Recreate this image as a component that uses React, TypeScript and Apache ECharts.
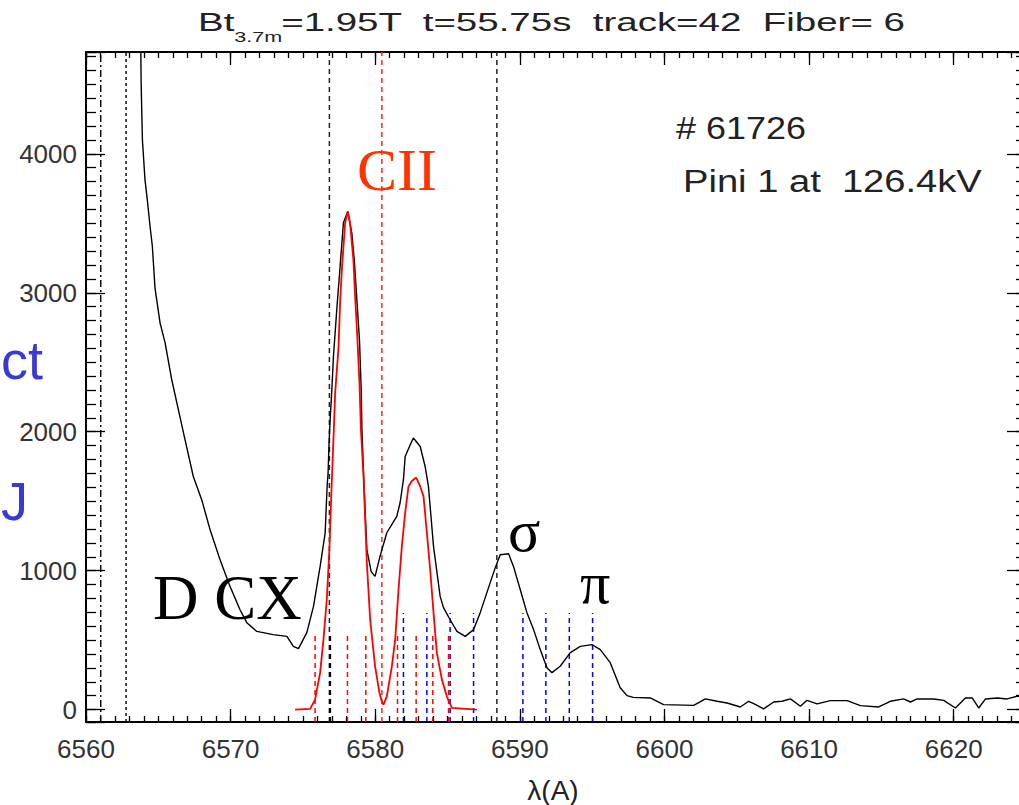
import React, { useEffect, useRef } from 'react';
import * as echarts from 'echarts';

// ---- axis ranges & tick labels ----
const X_MIN = 6560;
const X_MAX = 6625;
const Y_MIN = -89;
const Y_MAX = 4733;
const xTickLabels = ['6560', '6570', '6580', '6590', '6600', '6610', '6620'];
const yTickLabels = ['0', '1000', '2000', '3000', '4000'];

// ---- measured spectrum (black) ----
const spectrumLambda = [
  6563.75, 6563.81, 6563.90, 6564.08, 6564.24, 6564.43, 6564.59, 6564.77, 6565.12, 6565.47,
  6565.93, 6566.39, 6566.85, 6567.42, 6568.00, 6568.58, 6569.27, 6569.96, 6570.65, 6571.12,
  6571.81, 6572.94, 6573.89, 6574.34, 6574.69, 6575.27, 6575.73, 6576.19, 6576.54, 6576.60,
  6576.68, 6576.74, 6576.80, 6576.88, 6577.00, 6577.11, 6577.34, 6577.57, 6577.80, 6578.10,
  6578.38, 6578.56, 6578.73, 6578.91, 6579.03, 6579.08, 6579.19, 6579.42, 6579.72, 6579.99,
  6580.33, 6580.80, 6581.49, 6581.72, 6581.95, 6582.07, 6582.42, 6582.64, 6583.11, 6583.45,
  6583.68, 6584.03, 6584.49, 6584.72, 6585.18, 6585.65, 6586.22, 6586.80, 6587.26, 6587.72,
  6588.30, 6588.64, 6589.22, 6589.56, 6590.03, 6590.49, 6590.95, 6591.41, 6591.87, 6592.22,
  6592.79, 6593.49, 6594.18, 6594.99, 6595.56, 6596.25, 6596.94, 6597.41, 6597.84, 6599.02,
  6599.94, 6602.02, 6602.83, 6603.64, 6604.33, 6605.25, 6605.82, 6606.17, 6606.86, 6607.55,
  6608.13, 6608.71, 6609.40, 6609.86, 6610.55, 6611.47, 6612.63, 6613.55, 6614.81, 6615.62,
  6616.54, 6617.01, 6617.47, 6618.62, 6619.31, 6620.12, 6620.81, 6621.28, 6621.73, 6622.20,
  6623.01, 6623.70, 6624.39, 6625.00,
];
const spectrumCounts = [
  5200, 4520, 4101, 3813, 3669, 3477, 3333, 3036, 2784, 2640,
  2374, 2158, 1942, 1678, 1511, 1295, 1079, 887, 719, 626,
  563, 540, 527, 455, 439, 554, 743, 1031, 1273, 1430,
  1620, 1700, 1900, 2086, 2302, 2542, 2878, 3189, 3504, 3585,
  3432, 3225, 2950, 2662, 2302, 2014, 1705, 1151, 993, 959,
  1103, 1273, 1391, 1489, 1655, 1822, 1906, 1955, 1894, 1750,
  1606, 1175, 815, 734, 647, 563, 527, 576, 698, 842,
  1022, 1115, 1122, 1031, 863, 698, 576, 432, 302, 266,
  312, 410, 455, 468, 432, 338, 158, 101, 88, 84,
  36, 31, 77, 60, 48, 19, 60, 43, 5, 55,
  60, 77, 24, 67, 41, 65, 65, 29, 19, 60,
  77, 55, 77, 77, 67, 12, 84, 84, 12, 77,
  84, 77, 96, 96,
];

// ---- CII fit (red) ----
const fitLambda = [
  6574.46, 6575.50, 6575.84, 6576.19, 6576.42, 6576.65, 6576.83, 6576.95, 6577.11, 6577.23,
  6577.46, 6577.57, 6577.69, 6577.92, 6578.10, 6578.26, 6578.49, 6578.61, 6578.77, 6578.91,
  6579.01, 6579.19, 6579.42, 6579.65, 6579.99, 6580.29, 6580.45, 6580.57, 6580.80, 6581.15,
  6581.38, 6581.61, 6581.84, 6582.07, 6582.30, 6582.53, 6582.83, 6583.11, 6583.34, 6583.57,
  6583.80, 6584.03, 6584.26, 6584.61, 6584.95, 6585.30, 6587.03,
];
const fitCounts = [
  0, 5, 72, 266, 504, 791, 1151, 1511, 1942, 2281,
  2604, 2928, 3165, 3504, 3585, 3504, 3237, 2973, 2662, 2353,
  2014, 1678, 1058, 647, 312, 122, 60, 36, 96, 312,
  504, 863, 1175, 1417, 1606, 1645, 1669, 1606, 1535, 1273,
  1007, 698, 410, 216, 96, 12, 0,
];

// ---- reference wavelengths ----
const dashDotLambda = [6561.02];
const dottedLambda = [6562.77];
const blackFullLambda = [6576.83, 6588.41];
const redFullLambda = [6580.46];
const redMarkerLambda = [6575.84, 6578.08, 6579.35, 6581.54, 6582.83, 6583.98, 6585.07];
const blackMarkerLambda = [6576.88];
const blueMarkerLambda = [6581.95, 6583.57, 6585.18, 6586.80, 6590.21, 6591.80, 6593.42, 6595.03];
const redMarkerTop = 535;
const blueMarkerTop = 695;

const SANS = '"Liberation Sans", Arial, sans-serif';
const SERIF = '"Liberation Serif", "Times New Roman", serif';

function vline(x: number, top: number, color: string, dash: number[], width: number) {
  return {
    type: 'line',
    data: [[x, Y_MIN], [x, top]],
    symbol: 'none',
    silent: true,
    lineStyle: { color, width, type: dash },
    z: 3,
  };
}

export default function App() {
  const ref = useRef<HTMLDivElement>(null);
  useEffect(() => {
    if (!ref.current) return;
    const chart = echarts.init(ref.current, null, { renderer: 'svg' });

    const tickStyle = { color: '#000', width: 1.3 };
    const xBase = {
      type: 'value', min: X_MIN, max: X_MAX, splitLine: { show: false },
      axisLabel: { show: false },
      axisLine: { show: false, onZero: false },
    };
    const yBase = {
      type: 'value', min: Y_MIN, max: Y_MAX, splitLine: { show: false },
      axisLabel: { show: false },
      axisLine: { show: false, onZero: false },
    };
    const labelStyle = { fontSize: 26, fontFamily: SANS, color: '#333' };

    const series: any[] = [];
    series.push({
      type: 'line', data: spectrumLambda.map((x, i) => [x, spectrumCounts[i]]),
      symbol: 'none', clip: true, lineStyle: { color: '#000', width: 1.4 }, z: 4, silent: true,
    });
    series.push({
      type: 'line', data: fitLambda.map((x, i) => [x, fitCounts[i]]),
      symbol: 'none', clip: true, lineStyle: { color: '#ff0000', width: 1.8 }, z: 5, silent: true,
    });
    dashDotLambda.forEach((x) => series.push(vline(x, Y_MAX, '#000', [7, 3, 2, 3], 1.4)));
    dottedLambda.forEach((x) => series.push(vline(x, Y_MAX, '#000', [3, 3], 1.4)));
    blackFullLambda.forEach((x) => series.push(vline(x, Y_MAX, '#222', [5, 4], 1.5)));
    redFullLambda.forEach((x) => series.push(vline(x, Y_MAX, '#ff2020', [5, 4], 1.5)));
    redMarkerLambda.forEach((x) => series.push(vline(x, redMarkerTop, '#ff0000', [5, 4], 1.5)));
    blackMarkerLambda.forEach((x) => series.push(vline(x, redMarkerTop, '#000', [5, 4], 2)));
    blueMarkerLambda.forEach((x) => series.push(vline(x, blueMarkerTop, '#0000ff', [5, 4], 1.5)));

    const option: any = {
      animation: false,
      backgroundColor: '#fff',
      grid: { left: 86, top: 52, width: 940, height: 670, containLabel: false },
      xAxis: [
        {
          ...xBase, position: 'bottom', interval: 10,
          axisLine: { show: true, onZero: false, lineStyle: { color: '#000', width: 2 } },
          axisTick: { show: true, inside: true, length: 13, lineStyle: tickStyle },
          axisLabel: {
            show: true, margin: 14, ...labelStyle,
            formatter: (v: number) => (xTickLabels.includes(String(v)) ? String(v) : ''),
          },
        },
        { ...xBase, position: 'bottom', interval: 1, axisTick: { show: true, inside: true, length: 6, lineStyle: tickStyle } },
        {
          ...xBase, position: 'top', interval: 10,
          axisLine: { show: true, onZero: false, lineStyle: { color: '#000', width: 2 } },
          axisTick: { show: true, inside: true, length: 13, lineStyle: tickStyle },
        },
        { ...xBase, position: 'top', interval: 1, axisTick: { show: true, inside: true, length: 6, lineStyle: tickStyle } },
      ],
      yAxis: [
        {
          ...yBase, position: 'left', minInterval: 1000, maxInterval: 1000, splitNumber: 5,
          axisLine: { show: true, onZero: false, lineStyle: { color: '#000', width: 2 } },
          axisTick: { show: true, inside: true, length: 19, lineStyle: tickStyle },
          axisLabel: {
            show: true, margin: 9, ...labelStyle,
            formatter: (v: number) => (yTickLabels.includes(String(v)) ? String(v) : ''),
          },
        },
        {
          ...yBase, position: 'left', minInterval: 100, maxInterval: 100, splitNumber: 48,
          axisTick: { show: true, inside: true, length: 10, lineStyle: tickStyle },
        },
        {
          ...yBase, position: 'right', minInterval: 1000, maxInterval: 1000, splitNumber: 5,
          axisLine: { show: true, onZero: false, lineStyle: { color: '#000', width: 2 } },
          axisTick: { show: true, inside: true, length: 19, lineStyle: tickStyle },
        },
        {
          ...yBase, position: 'right', minInterval: 100, maxInterval: 100, splitNumber: 48,
          axisTick: { show: true, inside: true, length: 10, lineStyle: tickStyle },
        },
      ],
      series,
      graphic: [
        // title
        {
          type: 'group', x: 198, y: 0, scaleX: 1.54, scaleY: 1,
          children: [
            { type: 'text', x: 0, y: 23, style: { text: 'Bt', fontSize: 25, fontFamily: SANS, fill: '#222', align: 'left', verticalAlign: 'middle' } },
            { type: 'text', x: 23.6, y: 37, style: { text: '3.7m', fontSize: 14, fontFamily: SANS, fill: '#222', align: 'left', verticalAlign: 'middle' } },
            { type: 'text', x: 54, y: 23, style: { text: '=1.95T  t=55.75s  track=42  Fiber= 6', fontSize: 25, fontFamily: SANS, fill: '#222', align: 'left', verticalAlign: 'middle' } },
          ],
        },
        // shot annotations
        { type: 'text', x: 676, y: 128, scaleX: 1.16, style: { text: '# 61726', fontSize: 31, fontFamily: SANS, fill: '#222', align: 'left', verticalAlign: 'middle' } },
        { type: 'text', x: 683, y: 181, scaleX: 1.23, style: { text: 'Pini 1 at  126.4kV', fontSize: 31, fontFamily: SANS, fill: '#222', align: 'left', verticalAlign: 'middle' } },
        // species labels
        { type: 'text', x: 357, y: 170, style: { text: 'CII', fontSize: 60, fontFamily: SERIF, fill: '#ff3300', align: 'left', verticalAlign: 'middle' } },
        { type: 'text', x: 153, y: 598, style: { text: 'D CX', fontSize: 63, fontFamily: SERIF, fill: '#000', align: 'left', verticalAlign: 'middle' } },
        { type: 'text', x: 508, y: 531, style: { text: 'σ', fontSize: 60, fontFamily: SERIF, fill: '#000', align: 'left', verticalAlign: 'middle' } },
        { type: 'text', x: 580, y: 583, style: { text: 'π', fontSize: 60, fontFamily: SERIF, fill: '#000', align: 'left', verticalAlign: 'middle' } },
        // blue text at the left edge
        { type: 'text', x: 1, y: 360, style: { text: 'ct', fontSize: 54, fontFamily: SANS, fill: '#3a3ad0', align: 'left', verticalAlign: 'middle' } },
        { type: 'text', x: 1, y: 501, style: { text: 'J', fontSize: 54, fontFamily: SANS, fill: '#3a3ad0', align: 'left', verticalAlign: 'middle' } },
        // x axis title
        { type: 'text', x: 553, y: 790, style: { text: 'λ(A)', fontSize: 28, fontFamily: SANS, fill: '#222', align: 'center', verticalAlign: 'middle' } },
      ],
    };
    chart.setOption(option);
    return () => chart.dispose();
  }, []);

  return (
    <div style={{ position: 'absolute', left: 0, top: 0, width: 1019, height: 805, overflow: 'hidden', background: '#fff' }}>
      <div ref={ref} style={{ position: 'absolute', left: 0, top: 0, width: 1032, height: 805 }} />
    </div>
  );
}
